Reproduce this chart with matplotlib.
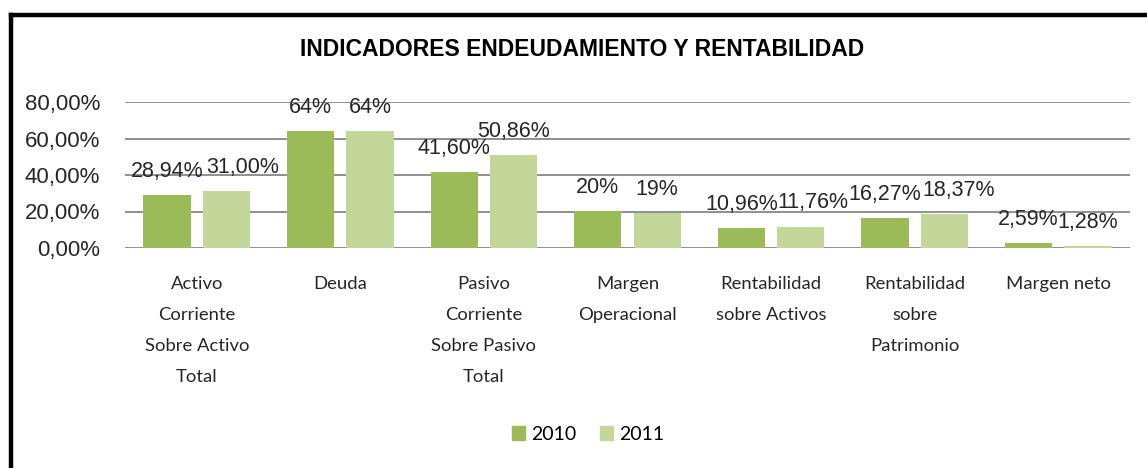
import numpy as np
import matplotlib.pyplot as plt
from matplotlib.lines import Line2D
from matplotlib.patches import Patch

# ==== DATOS ====
categorias = ["Activo\nCorriente\nSobre Activo\nTotal", "Deuda",
              "Pasivo\nCorriente\nSobre Pasivo\nTotal", "Margen\nOperacional",
              "Rentabilidad\nsobre Activos", "Rentabilidad\nsobre\nPatrimonio",
              "Margen neto"]
valores_2010 = [28.94, 64.1, 41.60, 20.3, 10.96, 16.27, 2.59]
valores_2011 = [31.00, 64.1, 50.86, 19.1, 11.76, 18.37, 1.28]
etiquetas_2010 = ["28,94%", "64%", "41,60%", "20%", "10,96%", "16,27%", "2,59%"]
etiquetas_2011 = ["31,00%", "64%", "50,86%", "19%", "11,76%", "18,37%", "1,28%"]
ticks_y = [0, 20, 40, 60, 80]
ticks_y_txt = ["0,00%", "20,00%", "40,00%", "60,00%", "80,00%"]

# desplazamiento horizontal (pt) de algunas etiquetas 2011, como en el original
despl_2011 = [12, 0, 0, 0, 9, 10, 0]

c_2010 = "#9BBB59"
c_2011 = "#C4D79B"
c_txt = "#262626"
f_num = ["Liberation Sans", "DejaVu Sans"]
f_cat = ["Lato", "DejaVu Sans"]

W, H = 1147, 468
fig = plt.figure(figsize=(W / 100, H / 100), dpi=100)
ax = fig.add_axes([125 / W, 1 - 248 / H, (1130 - 125) / W, (248 - 102) / H])

x = np.arange(len(categorias))
ancho = 0.33
b1 = ax.bar(x - 0.207, valores_2010, ancho, color=c_2010, label="2010", zorder=3)
b2 = ax.bar(x + 0.207, valores_2011, ancho, color=c_2011, label="2011", zorder=3)

# etiquetas de datos sobre las barras
for barras, textos, dxs in ((b1, etiquetas_2010, [0] * 7), (b2, etiquetas_2011, despl_2011)):
    for b, t, dx in zip(barras, textos, dxs):
        ax.annotate(t, (b.get_x() + b.get_width() / 2, b.get_height()),
                    xytext=(dx, 17), textcoords="offset points",
                    ha="center", va="center", fontsize=15.5, color=c_txt,
                    family=f_num, zorder=4)

ax.set_xlim(-0.5, len(categorias) - 0.5)
ax.set_ylim(0, 80)
ax.set_yticks(ticks_y)
ax.set_yticklabels(ticks_y_txt, fontsize=16, family=f_num, color=c_txt)
ax.set_xticks(x)
ax.set_xticklabels(categorias, fontsize=13.3, family=f_cat, color=c_txt,
                   linespacing=2.15)
ax.tick_params(axis="both", length=0)
ax.tick_params(axis="y", pad=18)
ax.tick_params(axis="x", pad=20)
ax.yaxis.grid(True, color="#878787", linewidth=1.3, zorder=0)
for s in ax.spines.values():
    s.set_visible(False)

fig.text(582 / W, 1 - 50 / H, "INDICADORES ENDEUDAMIENTO Y RENTABILIDAD",
         ha="center", va="center", fontsize=16.5, fontweight="bold",
         family=f_num, color="#000000")

handles = [Patch(color=c_2010), Patch(color=c_2011)]
fig.legend(handles, ["2010", "2011"], loc="center", ncol=2, frameon=False,
           bbox_to_anchor=(588 / W, 1 - 434 / H), handlelength=0.7,
           handleheight=0.7, handletextpad=0.3, columnspacing=1.2,
           prop={"family": f_cat, "size": 14})

# marco negro (izquierda y arriba)
fig.add_artist(Line2D([10.5 / W, 10.5 / W], [0, 1 - 14.5 / H], color="black",
                      linewidth=3.2, transform=fig.transFigure, solid_capstyle="projecting"))
fig.add_artist(Line2D([10.5 / W, 1], [1 - 14.5 / H, 1 - 14.5 / H], color="black",
                      linewidth=3.2, transform=fig.transFigure, solid_capstyle="projecting"))

fig.savefig("out.png", dpi=100)
